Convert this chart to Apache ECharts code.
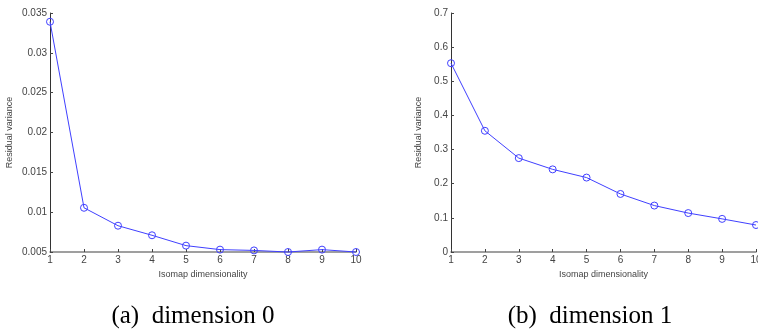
<!DOCTYPE html>
<html>
<head>
<meta charset="utf-8">
<script src="https://cdn.jsdelivr.net/npm/echarts@6/dist/echarts.min.js"></script>
<style>html,body{margin:0;padding:0;background:#fff;}#c{width:758px;height:333px;}</style>
</head>
<body>
<div id="c"></div>
<script>
const dims = [1,2,3,4,5,6,7,8,9,10];
const residual0 = [0.0339,0.01055,0.0083,0.0071,0.0058,0.0053,0.0052,0.0050,0.0053,0.0050];
const residual1 = [0.553,0.355,0.275,0.242,0.218,0.170,0.136,0.114,0.097,0.079];
const captions = ['(a)  dimension 0','(b)  dimension 1'];
const xName = 'Isomap dimensionality';
const yName = 'Residual variance';

const chart = echarts.init(document.getElementById('c'));
const tickLab = {fontFamily:'Liberation Sans, Arial, sans-serif', fontSize:10, color:'#444', margin:3};
function xAxis(idx){
  return {gridIndex:idx, type:'value', min:1, max:10, interval:1,
    name:xName, nameLocation:'middle', nameGap:15,
    nameTextStyle:{fontFamily:'Liberation Sans, Arial, sans-serif', fontSize:9, color:'#444'},
    axisLine:{show:true, lineStyle:{color:'#808080', width:1.5}},
    axisTick:{show:true, inside:true, length:3, lineStyle:{color:'#444'}},
    axisLabel:tickLab,
    splitLine:{show:false}};
}
function yAxis(idx, min, max, interval, gap){
  return {gridIndex:idx, type:'value', min:min, max:max, interval:interval,
    name:yName, nameLocation:'middle', nameGap:gap,
    nameTextStyle:{fontFamily:'Liberation Sans, Arial, sans-serif', fontSize:9, color:'#444'},
    axisLine:{show:true, lineStyle:{color:'#333', width:1}},
    axisTick:{show:true, inside:true, length:3, lineStyle:{color:'#444'}},
    axisLabel:tickLab,
    splitLine:{show:false}};
}
function series(idx, vals){
  return {type:'line', xAxisIndex:idx, yAxisIndex:idx,
    data:dims.map((d,i)=>[d, vals[i]]),
    symbol:'circle', symbolSize:7,
    lineStyle:{color:'#4040ff', width:1},
    itemStyle:{color:'rgba(0,0,0,0)', borderColor:'#4040ff', borderWidth:1},
    emphasis:{disabled:true},
    animation:false, clip:false};
}
chart.setOption({
  animation:false,
  backgroundColor:'#fff',
  grid:[
    {left:50, right:402, top:13, bottom:81, outerBoundsMode:'none', containLabel:false},
    {left:451, right:2, top:13, bottom:81, outerBoundsMode:'none', containLabel:false}
  ],
  xAxis:[xAxis(0), xAxis(1)],
  yAxis:[yAxis(0, 0.005, 0.035, 0.005, 36), yAxis(1, 0, 0.7, 0.1, 28)],
  series:[series(0, residual0), series(1, residual1)],
  graphic:[
    {type:'text', x:193, y:316, style:{text:captions[0], fontFamily:'Liberation Serif, Times New Roman, serif', fontSize:25, fill:'#000', align:'center', verticalAlign:'middle'}},
    {type:'text', x:590, y:316, style:{text:captions[1], fontFamily:'Liberation Serif, Times New Roman, serif', fontSize:25, fill:'#000', align:'center', verticalAlign:'middle'}}
  ]
});
</script>
</body>
</html>
